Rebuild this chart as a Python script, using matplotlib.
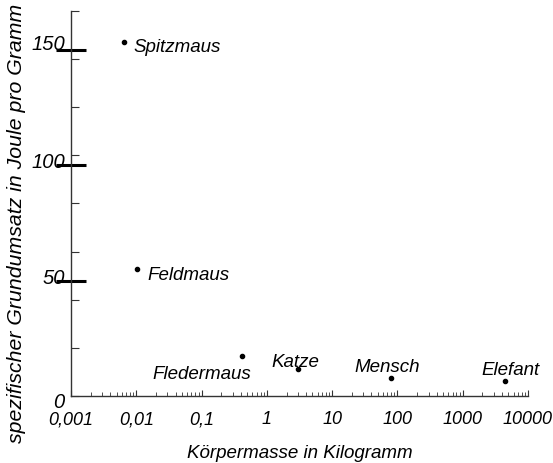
import numpy as np
import matplotlib.pyplot as plt
from matplotlib.ticker import FixedLocator, NullFormatter, LogLocator
import matplotlib.transforms as mtransforms

plt.rcParams['font.family'] = ['Liberation Sans', 'DejaVu Sans']
plt.rcParams['font.style'] = 'italic'

# Daten: Tier, Körpermasse (kg), spezifischer Grundumsatz (J/g)
tiere = ['Spitzmaus', 'Feldmaus', 'Fledermaus', 'Katze', 'Mensch', 'Elefant']
masse = [0.0065, 0.0101, 0.42, 3.0, 80, 4500]
umsatz = [153.5, 55, 17.3, 11.8, 7.8, 6.5]
# Beschriftung relativ zum Punkt (Punkte), Grundlinie
text_off = [(6.5, -7.2), (8, -8), (6.5, -16.5), (-2, 1.5), (-3, 4.3), (3.6, 4.3)]
text_ha = ['left', 'left', 'right', 'center', 'center', 'center']

x_ticks = [0.001, 0.01, 0.1, 1, 10, 100, 1000, 10000]
x_labels = ['0,001', '0,01', '0,1', '1', '10', '100', '1000', '10000']
y_ticks = [50, 100, 150]
y_labels = ['0', '50', '100', '150']
y_lab_off = [-8.5, -2, -1.5, 0]
y_top = 167

fig = plt.figure(figsize=(5.53, 4.63), dpi=100)
ax = fig.add_axes([71/553, 1-396/463, 457/553, 385/463])

ax.plot(masse, umsatz, 'o', color='black', markersize=3)
for name, xv, yv, off, ha in zip(tiere, masse, umsatz, text_off, text_ha):
    ax.annotate(name, (xv, yv), xytext=off, textcoords='offset points',
                ha=ha, va='baseline', fontsize=13.5, style='italic')

ax.set_xscale('log')
ax.set_xlim(0.001, 10000)
ax.set_ylim(0, y_top)

for s in ['top', 'right']:
    ax.spines[s].set_visible(False)
for s in ['left', 'bottom']:
    ax.spines[s].set_linewidth(1.0)
    ax.spines[s].set_color('#333333')

# x-Achse
ax.xaxis.set_major_locator(FixedLocator(x_ticks))
ax.set_xticklabels(x_labels, fontsize=13, style='italic')
ax.xaxis.set_minor_locator(LogLocator(base=10, subs=np.arange(2, 10)))
ax.xaxis.set_minor_formatter(NullFormatter())
ax.tick_params(axis='x', which='major', direction='in', length=4, width=0.8,
               color='#333333', pad=11)
ax.tick_params(axis='x', which='minor', direction='in', length=3, width=0.6,
               color='#333333')

# y-Achse: dicke Markierungen bei 50/100/150, dünne gleichmäßig verteilt
ax.yaxis.set_major_locator(FixedLocator(y_ticks))
ax.yaxis.set_minor_locator(FixedLocator(np.linspace(0, y_top, 9)))
ax.yaxis.set_major_formatter(NullFormatter())
ax.tick_params(axis='y', which='major', direction='inout', length=22, width=2.2,
               color='black')
ax.tick_params(axis='y', which='minor', direction='in', length=6, width=0.8,
               color='#333333')

trans = mtransforms.blended_transform_factory(ax.transAxes, ax.transData)
for lab, dy in zip(y_labels, y_lab_off):
    ax.annotate(lab, (0, float(lab)), xycoords=trans, xytext=(-4.5, dy),
                textcoords='offset points', ha='right', va='baseline',
                fontsize=14.5, style='italic')

ax.set_xlabel('Körpermasse in Kilogramm', fontsize=13.5, style='italic',
              labelpad=12)
fig.text(17/553, 1-223.5/463, 'spezifischer Grundumsatz in Joule pro Gramm',
         rotation=90, ha='center', va='center', fontsize=15.3, style='italic')

fig.savefig('out.png', dpi=100)
